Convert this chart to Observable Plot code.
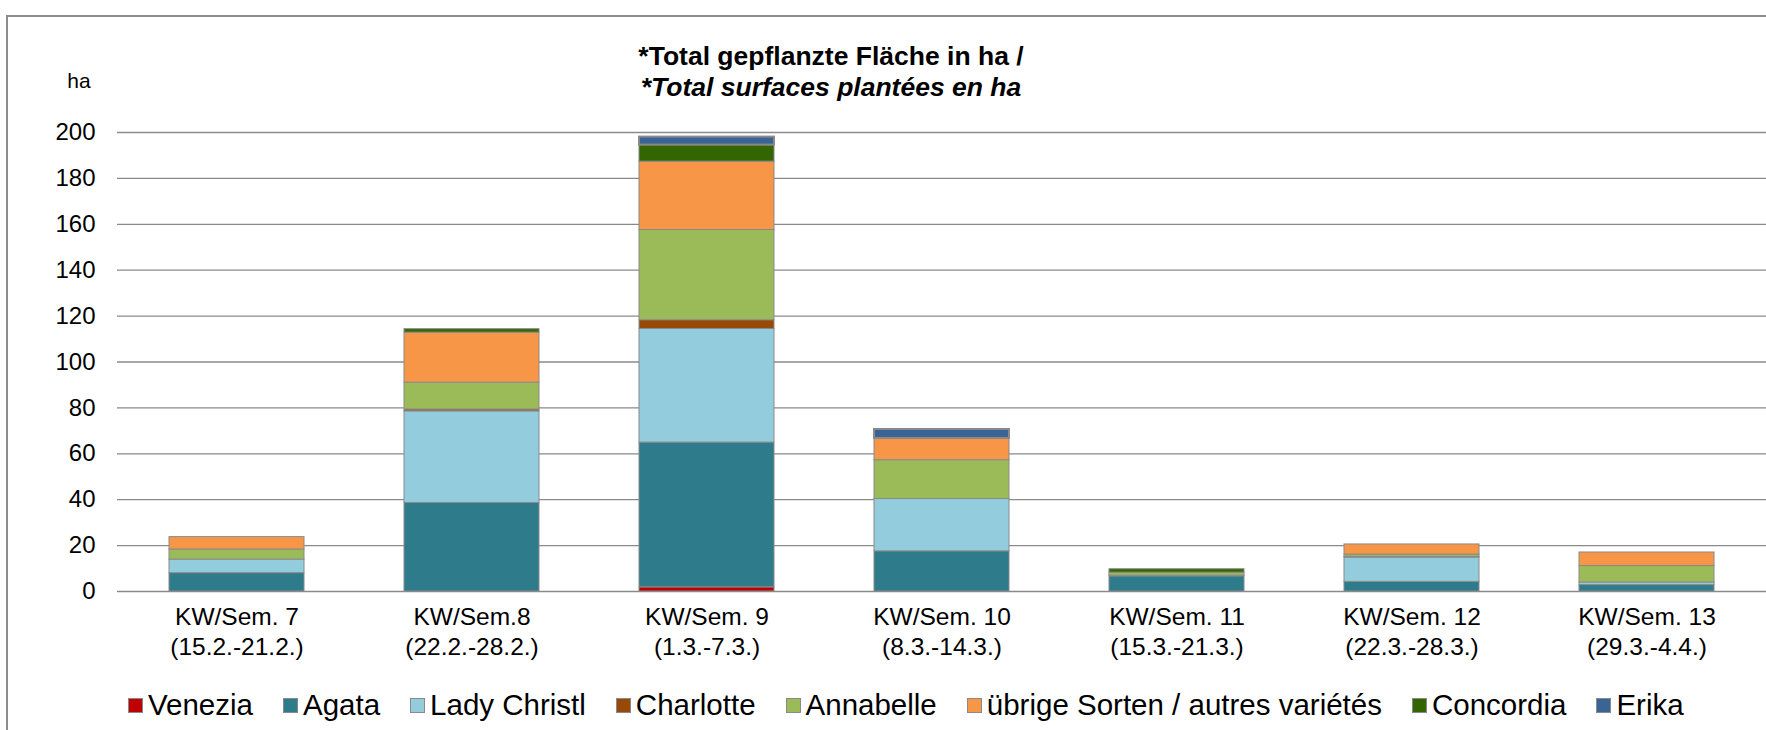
<!DOCTYPE html>
<html><head><meta charset="utf-8">
<script src="https://cdn.jsdelivr.net/npm/d3@7"></script>
<script src="https://cdn.jsdelivr.net/npm/@observablehq/plot@0.6"></script>
<style>
body{margin:0;background:#fff;font-family:"Liberation Sans",Arial,sans-serif;color:#000;}
#wrap{position:relative;width:1766px;height:730px;overflow:hidden;}
#frame{position:absolute;left:6px;top:15px;width:1800px;height:800px;border:2px solid #8c8c8c;box-sizing:border-box;}
#head{position:relative;height:110px;}
.t{position:absolute;left:531px;width:600px;text-align:center;font-weight:bold;font-size:26.5px;line-height:26.5px;white-space:nowrap;}
#ha{position:absolute;left:59px;top:70px;width:40px;text-align:center;font-size:21px;line-height:21px;}
#chart{position:relative;height:560px;}
#legend{position:absolute;left:128px;top:688px;display:flex;align-items:center;font-size:29.5px;line-height:34px;white-space:nowrap;}
.it{display:flex;align-items:center;margin-right:30px;}
.sw{width:15px;height:15px;border:1px solid #8a8a8a;box-sizing:border-box;margin-right:5px;}
</style></head>
<body>
<div id="wrap">
<div id="frame"></div>
<div id="head">
  <div class="t" style="top:42.5px">*Total gepflanzte Fläche in ha /</div>
  <div class="t" style="top:73.5px;font-style:italic">*Total surfaces plantées en ha</div>
  <div id="ha">ha</div>
</div>
<div id="chart"></div>
<div id="legend"></div>
</div>
<script>
const weeks = ["KW/Sem. 7\n(15.2.-21.2.)","KW/Sem.8\n(22.2.-28.2.)","KW/Sem. 9\n(1.3.-7.3.)","KW/Sem. 10\n(8.3.-14.3.)","KW/Sem. 11\n(15.3.-21.3.)","KW/Sem. 12\n(22.3.-28.3.)","KW/Sem. 13\n(29.3.-4.4.)"];
const varieties = ["Venezia","Agata","Lady Christl","Charlotte","Annabelle","übrige Sorten / autres variétés","Concordia","Erika"];
const venezia     = [0,   0,    1.8,  0,    0,   0,    0];
const agata       = [8.0, 38.6, 63.1, 17.5, 6.6, 4.2,  2.8];
const ladyChristl = [5.9, 39.9, 49.5, 22.8, 0.3, 10.6, 1.1];
const charlotte   = [0,   0.8,  3.8,  0,    0,   0.3,  0];
const annabelle   = [4.4, 11.7, 39.3, 16.9, 1.3, 1.0,  7.2];
const uebrige     = [5.4, 21.8, 29.8, 9.5,  0,   4.4,  5.9];
const concordia   = [0,   1.5,  7.2,  0,    1.5, 0,    0];
const erika       = [0,   0,    3.5,  3.9,  0,   0,    0];
const colors = ["#C00000","#2E7B8C","#93CDDD","#984807","#9BBB59","#F79646","#336600","#3A6496"];
const yTicks = [0,20,40,60,80,100,120,140,160,180,200];

const series = [venezia,agata,ladyChristl,charlotte,annabelle,uebrige,concordia,erika];
const rows = [];
weeks.forEach((w,i)=>series.forEach((s,j)=>{ if(s[i]>0) rows.push({week:w, variety:varieties[j], value:s[i]}); }));

const font = '"Liberation Sans", Arial, sans-serif';
const chart = Plot.plot({
  width:1766, height:560,
  marginLeft:117, marginRight:0, marginTop:22, marginBottom:79,
  style:{fontFamily:font, background:"transparent", color:"#000", overflow:"visible"},
  x:{domain:weeks, paddingInner:0.427, paddingOuter:0.2135, label:null},
  y:{domain:[0,200], label:null},
  color:{domain:varieties, range:colors},
  marks:[
    Plot.gridY(yTicks,{stroke:"#8a8a8a", strokeOpacity:1, strokeWidth:1.3}),
    Plot.barY(rows,{x:"week", y:"value", fill:"variety", stroke:"#8a8a8a",
      strokeWidth:d=>d.variety==="Erika"?2:1}),
    Plot.axisY(yTicks,{tickSize:0, tickPadding:22, fontSize:24, label:null}),
    Plot.axisX({tickSize:0, tickPadding:13, fontSize:24.5, lineHeight:1.2, label:null})
  ]
});
document.getElementById("chart").appendChild(chart);

const lg = document.getElementById("legend");
varieties.forEach((v,i)=>{
  const it = document.createElement("div"); it.className="it";
  const sw = document.createElement("div"); sw.className="sw"; sw.style.background=colors[i];
  const tx = document.createElement("span"); tx.textContent=v;
  it.appendChild(sw); it.appendChild(tx); lg.appendChild(it);
});
</script>
</body></html>
